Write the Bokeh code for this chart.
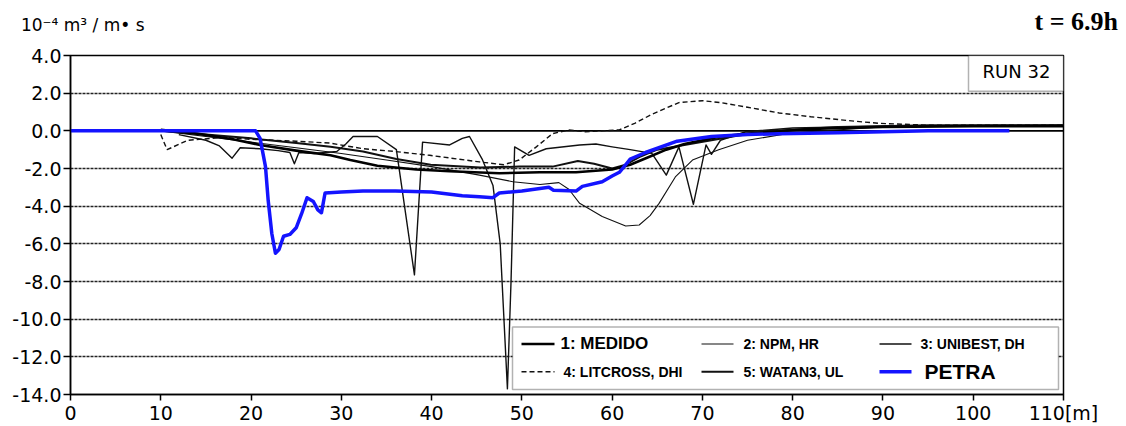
from bokeh.plotting import figure
from bokeh.layouts import column
from bokeh.models import Range1d, FixedTicker, Span, Label, BoxAnnotation, PrintfTickFormatter, LinearAxis
from bokeh.embed import file_html
from bokeh.resources import INLINE

# ---------------- data ----------------
x_ticks = [0, 10, 20, 30, 40, 50, 60, 70, 80, 90, 100, 110]
y_ticks = [4, 2, 0, -2, -4, -6, -8, -10, -12, -14]
grid_levels = [2, -2, -4, -6, -8, -10, -12]

medido_x = [10, 14, 18, 21, 25, 28.8, 31, 34, 38.3, 42, 47.5, 52, 56, 60, 62, 64, 66, 68, 70, 72, 75, 78, 82, 90, 100, 110]
medido_y = [0.05, -0.15, -0.45, -0.75, -1.05, -1.3, -1.55, -1.85, -2.05, -2.15, -2.25, -2.2, -2.2, -2.05, -1.8, -1.4, -1.0, -0.7, -0.5, -0.3, -0.15, -0.05, 0.1, 0.2, 0.25, 0.25]

npm_x = [10, 15, 20, 25, 30, 35, 40, 45.3, 49, 52, 54.1, 55.2, 56.4, 58.9, 61.5, 63, 64.2, 65.2, 67, 68.9, 71.8, 75, 80, 90, 110]
npm_y = [0, -0.3, -0.6, -0.9, -1.2, -1.55, -1.9, -2.35, -2.7, -2.85, -2.75, -3.1, -3.85, -4.55, -5.05, -5.0, -4.5, -3.85, -2.45, -1.55, -1.0, -0.5, -0.1, 0.2, 0.3]

unibest_x = [12, 15, 16.5, 17.9, 18.8, 21, 23, 24.3, 24.8, 25.3, 27, 29.5, 30.5, 31.3, 34, 36.1, 38.1, 39.0, 42, 43.4, 44.2, 45.6, 46.8, 47.6, 48.4, 48.8, 49.2, 50.8, 52.7, 56.4, 58.2, 60, 62, 64.4, 66, 67.4, 69, 70.4, 71, 72, 74.8, 80, 90, 110]
unibest_y = [-0.2, -0.5, -0.8, -1.45, -0.9, -0.95, -1.05, -1.15, -1.75, -1.15, -1.2, -1.1, -0.7, -0.3, -0.3, -1.0, -7.65, -0.6, -0.75, -0.4, -0.3, -1.5, -2.9, -6.0, -13.7, -8.0, -0.85, -1.3, -0.95, -0.75, -0.7, -0.85, -1.0, -1.2, -2.35, -0.85, -3.9, -0.75, -1.25, -0.5, -0.05, 0.15, 0.25, 0.3]

litcross_x = [10, 10.7, 13, 17, 20, 25, 28.7, 32.4, 36, 39.8, 45.3, 48, 49.7, 51.6, 53.4, 55.2, 57, 60.8, 62.5, 64.5, 67.4, 70, 72, 75, 78.5, 82, 86, 89.5, 95, 110]
litcross_y = [-0.2, -1.0, -0.5, -0.35, -0.45, -0.55, -0.65, -0.95, -1.1, -1.3, -1.65, -1.8, -1.55, -0.85, -0.15, 0.05, -0.05, 0.05, 0.4, 0.9, 1.5, 1.6, 1.5, 1.25, 0.95, 0.75, 0.55, 0.4, 0.3, 0.3]

watan_x = [10, 15, 20, 25, 28.8, 32.4, 36.1, 39.9, 45.4, 49.7, 53.4, 56.2, 58, 60, 61.5, 63, 65, 68, 71, 74, 78, 85, 95, 110]
watan_y = [0, -0.2, -0.4, -0.65, -0.85, -1.1, -1.5, -1.8, -1.95, -1.9, -1.9, -1.6, -1.75, -2.0, -1.8, -1.4, -1.0, -0.75, -0.5, -0.25, 0.0, 0.2, 0.3, 0.3]

petra_x = [0, 20.5, 21.0, 21.6, 21.9, 22.3, 22.7, 23.1, 23.6, 24.3, 25.0, 25.6, 26.2, 26.9, 27.4, 27.8, 28.2, 30, 32.4, 36, 40, 43.4, 45.3, 46.8, 47.5, 50, 53, 53.5, 56, 56.7, 58.9, 60, 60.8, 61.5, 62, 63.7, 67.2, 71, 75, 78.5, 85, 90, 95, 104]
petra_y = [0, 0, -0.4, -1.9, -3.7, -5.45, -6.5, -6.3, -5.6, -5.5, -5.15, -4.4, -3.55, -3.75, -4.2, -4.35, -3.3, -3.25, -3.2, -3.2, -3.25, -3.45, -3.5, -3.55, -3.3, -3.2, -3.0, -3.15, -3.2, -2.95, -2.7, -2.4, -2.2, -1.8, -1.5, -1.15, -0.55, -0.3, -0.2, -0.15, -0.1, -0.05, 0, 0]

legend_labels = ["1: MEDIDO", "2: NPM, HR", "3: UNIBEST, DH", "4: LITCROSS, DHI", "5: WATAN3, UL", "PETRA"]
run_label = "RUN 32"
time_label = "t = 6.9h"
unit_label = "10\u207b\u2074 m\u00b3 / m\u2022 s"

BLUE = "#1414ff"

# ---------------- layout (page pixels) ----------------
W = 1126
HEAD_H = 43
MAIN_H = 426 - HEAD_H
BL, BR, BT, BB = 70, 63, 12, 29
FX0, FX1 = BL, W - BR
FY0, FY1 = HEAD_H + BT, HEAD_H + MAIN_H - BB
XMIN, XMAX, YMIN, YMAX = 0, 110, -14, 4


def dx(px):
    return XMIN + (px - FX0) / (FX1 - FX0) * (XMAX - XMIN)


def dy(py):
    return YMAX - (py - FY0) / (FY1 - FY0) * (YMAX - YMIN)


# ---------------- header strip: texts carried by its two side axes ----------------
head = figure(width=W, height=HEAD_H, x_range=Range1d(0, 1), y_range=Range1d(HEAD_H, 0),
              output_backend="svg", toolbar_location=None, x_axis_location=None,
              min_border_left=BL, min_border_right=BR, min_border_top=0, min_border_bottom=0)
head.grid.visible = False
head.outline_line_color = None
head.background_fill_color = "white"
head.border_fill_color = "white"
head.add_layout(LinearAxis(), "right")
UNIT_Y, TIME_Y = 24, 21
head.yaxis[0].ticker = FixedTicker(ticks=[UNIT_Y])
head.yaxis[0].major_label_overrides = {UNIT_Y: unit_label}
head.yaxis[0].major_label_standoff = -(144 - BL)
head.yaxis[0].major_label_text_font = "DejaVu Sans"
head.yaxis[0].major_label_text_font_size = "17px"
head.yaxis[1].ticker = FixedTicker(ticks=[TIME_Y])
head.yaxis[1].major_label_overrides = {TIME_Y: time_label}
head.yaxis[1].major_label_standoff = -(FX1 - 1034)
head.yaxis[1].major_label_text_font = "Liberation Serif"
head.yaxis[1].major_label_text_font_style = "bold"
head.yaxis[1].major_label_text_font_size = "26px"
for ax in head.yaxis:
    ax.axis_line_color = None
    ax.major_tick_line_color = None
    ax.minor_tick_line_color = None
    ax.major_tick_out = 0
    ax.major_tick_in = 0
    ax.major_label_text_color = "black"

# ---------------- main plot ----------------
p = figure(width=W, height=MAIN_H, x_range=Range1d(XMIN, XMAX), y_range=Range1d(YMIN, YMAX),
           output_backend="svg", toolbar_location=None,
           min_border_left=BL, min_border_right=BR, min_border_top=BT, min_border_bottom=BB)
p.background_fill_color = "white"
p.border_fill_color = "white"
p.outline_line_color = "black"
p.outline_line_width = 1.5

p.xgrid.grid_line_color = None
p.ygrid.ticker = FixedTicker(ticks=grid_levels)
p.ygrid.grid_line_color = "#222222"
p.ygrid.grid_line_dash = "3 1"
p.ygrid.grid_line_width = 1.3

p.xaxis.ticker = FixedTicker(ticks=x_ticks)
p.xaxis.major_label_overrides = {110: "110[m]"}
p.yaxis.ticker = FixedTicker(ticks=y_ticks)
p.yaxis.formatter = PrintfTickFormatter(format="%.1f")
for ax in (p.xaxis, p.yaxis):
    ax.axis_line_color = "black"
    ax.axis_line_width = 1.5
    ax.major_tick_line_color = "black"
    ax.major_tick_line_width = 1.5
    ax.minor_tick_line_color = None
    ax.major_tick_in = 0
    ax.major_label_text_font = "DejaVu Sans"
    ax.major_label_text_font_size = "19px"
    ax.major_label_text_color = "black"
p.xaxis.major_tick_out = 6
p.yaxis.major_tick_out = 7
p.xaxis.major_label_standoff = 1
p.yaxis.major_label_standoff = 2

p.add_layout(Span(location=0, dimension="width", line_color="black", line_width=1.6, level="underlay"))

# curves
p.line(npm_x, npm_y, line_color="#111111", line_width=1.1, line_join="round")
p.line(unibest_x, unibest_y, line_color="#111111", line_width=1.4, line_join="round")
p.line(litcross_x, litcross_y, line_color="#111111", line_width=1.4, line_dash="5 3")
p.line(watan_x, watan_y, line_color="#111111", line_width=2.0, line_join="round")
p.line(medido_x, medido_y, line_color="black", line_width=2.6, line_join="round")
p.line(petra_x, petra_y, line_color=BLUE, line_width=3.5, line_join="round")

# RUN box
p.add_layout(BoxAnnotation(left=dx(968), right=XMAX, top=YMAX, bottom=dy(91),
                           fill_color="white", fill_alpha=1.0, line_color="black", line_width=1.5))
p.add_layout(Label(x=dx(1016), y=dy(71), text=run_label, text_align="center", text_baseline="middle",
                   text_font="DejaVu Sans", text_font_size="18px", text_color="black"))

# legend (manual, to allow per-entry fonts)
LG_L, LG_R, LG_T, LG_B = 512, 1058, 329, 392
p.add_layout(BoxAnnotation(left=dx(LG_L), right=dx(LG_R), top=dy(LG_T), bottom=dy(LG_B),
                           fill_color="white", fill_alpha=1.0, line_color="black", line_width=1.5))
row_py = [346, 346, 346, 374, 374, 374]
col_line = [(521, 554), (701, 733), (879, 911), (521, 554), (701, 733), (879, 911)]
col_text = [560, 743, 920, 563, 743, 924]
leg_colors = ["black", "#111111", "#111111", "#111111", "#111111", BLUE]
leg_widths = [2.6, 1.1, 1.4, 1.4, 2.0, 3.5]
leg_dash = ["solid", "solid", "solid", "5 3", "solid", "solid"]
leg_fsize = ["17px", "14px", "14px", "14px", "14px", "21px"]
for i, lab in enumerate(legend_labels):
    x0, x1 = col_line[i]
    p.segment(x0=[dx(x0)], y0=[dy(row_py[i])], x1=[dx(x1)], y1=[dy(row_py[i])],
              line_color=leg_colors[i], line_width=leg_widths[i], line_dash=leg_dash[i],
              level="overlay")
    p.add_layout(Label(x=dx(col_text[i]), y=dy(row_py[i]), text=lab, text_baseline="middle",
                       text_font="Liberation Sans", text_font_style="bold",
                       text_font_size=leg_fsize[i], text_color="black"))

layout = column(head, p, spacing=0)
open("out.html", "w").write(file_html(layout, INLINE))
